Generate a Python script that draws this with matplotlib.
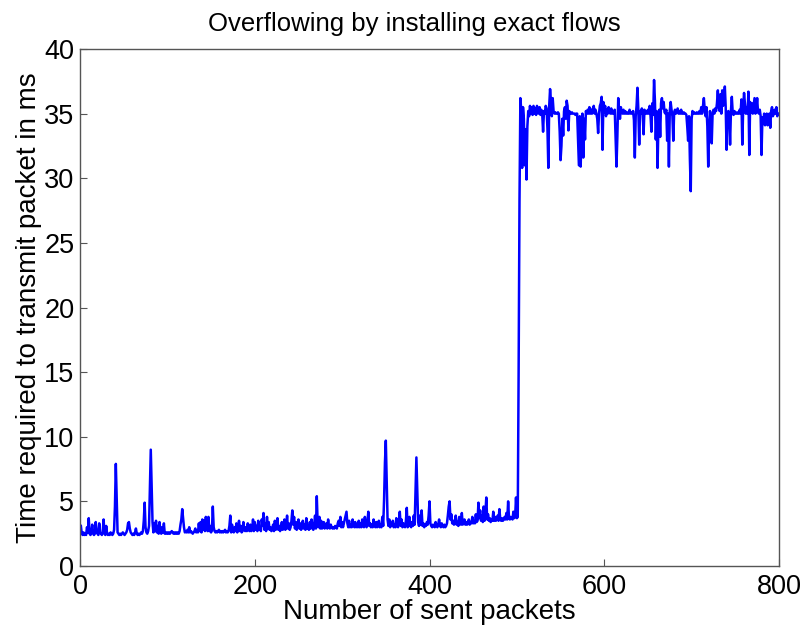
import numpy as np
import matplotlib
matplotlib.use("Agg")
import matplotlib.pyplot as plt

# transmit time (ms) per sent packet, 100 packets per list
ms_001_100 = [
    3.1, 2.5, 2.4, 2.6, 2.4, 2.5, 2.4, 3.0, 2.6, 3.7,
    2.5, 2.4, 2.6, 3.2, 2.5, 2.4, 2.5, 3.4, 2.6, 2.5,
    2.4, 3.3, 2.6, 2.5, 2.4, 2.6, 3.6, 2.5, 2.4, 3.1,
    2.5, 2.4, 2.5, 2.4, 2.6, 2.5, 2.4, 2.5, 2.8, 4.6,
    7.9, 5.1, 2.6, 2.5, 2.4, 2.5, 2.4, 2.5, 2.6, 2.5,
    2.4, 2.5, 2.6, 2.8, 3.3, 3.4, 2.9, 2.6, 2.5, 2.4,
    2.5, 2.4, 2.6, 2.9, 2.5, 2.4, 2.5, 2.4, 2.5, 2.6,
    2.5, 2.7, 3.5, 4.9, 3.0, 2.6, 2.5, 2.7, 3.1, 6.1,
    9.0, 6.1, 3.4, 2.6, 3.3, 2.7, 3.5, 2.6, 3.1, 2.5,
    3.4, 2.7, 2.5, 3.0, 2.6, 3.3, 2.5, 2.6, 2.5, 2.6,
]
ms_101_200 = [
    2.5, 2.6, 2.5, 2.6, 2.7, 2.6, 2.5, 2.6, 2.5, 2.6,
    2.5, 2.6, 2.5, 2.7, 3.2, 3.6, 4.4, 3.7, 3.0, 2.6,
    2.7, 2.6, 2.8, 2.6, 3.0, 2.6, 2.7, 2.6, 2.5, 2.6,
    2.7, 2.9, 2.6, 2.7, 2.6, 3.3, 2.7, 3.4, 2.6, 3.6,
    2.8, 3.5, 2.7, 3.8, 3.1, 2.7, 3.8, 2.7, 3.1, 2.6,
    2.8, 4.6, 3.0, 2.7, 2.6, 2.7, 2.6, 2.7, 2.8, 2.6,
    2.7, 2.6, 2.7, 2.6, 2.7, 2.8, 2.6, 2.7, 2.6, 2.7,
    3.1, 3.9, 2.6, 3.2, 2.7, 2.6, 3.0, 2.7, 3.3, 2.6,
    2.8, 3.5, 2.7, 3.1, 2.6, 2.7, 3.4, 2.8, 2.7, 3.0,
    2.7, 3.3, 2.8, 2.7, 3.2, 2.7, 2.8, 3.6, 2.7, 3.4,
]
ms_201_300 = [
    2.8, 3.1, 2.7, 3.5, 2.8, 3.0, 2.7, 3.6, 3.1, 4.1,
    2.8, 3.3, 2.7, 3.8, 2.9, 3.4, 2.8, 3.0, 2.7, 2.8,
    3.2, 2.7, 3.5, 2.8, 2.9, 3.7, 2.8, 3.1, 2.7, 3.0,
    3.4, 2.8, 2.9, 3.6, 2.8, 3.1, 3.9, 2.9, 3.3, 2.8,
    3.0, 3.5, 4.3, 3.2, 3.8, 2.9, 3.4, 2.8, 3.1, 3.6,
    2.9, 3.3, 2.8, 3.0, 3.5, 2.9, 3.2, 2.8, 3.7, 2.9,
    3.1, 2.8, 3.4, 2.9, 3.6, 3.0, 2.8, 3.2, 3.9, 2.9,
    5.4, 3.3, 3.0, 3.8, 2.9, 3.5, 2.9, 3.1, 3.4, 2.9,
    3.0, 3.3, 2.9, 3.6, 3.0, 2.9, 3.2, 3.0, 2.9, 3.0,
    2.9, 3.1, 3.0, 2.9, 3.3, 3.5, 3.1, 3.8, 3.0, 3.4,
]
ms_301_400 = [
    3.0, 3.3, 3.6, 3.9, 4.2, 3.3, 3.0, 3.5, 3.0, 3.2,
    3.0, 3.6, 3.1, 3.0, 3.4, 3.0, 3.1, 3.0, 3.5, 3.0,
    3.3, 3.0, 3.6, 3.1, 3.0, 3.8, 3.2, 3.0, 3.5, 4.2,
    3.1, 3.3, 3.0, 3.2, 3.0, 3.6, 3.1, 3.0, 3.4, 3.0,
    3.1, 3.5, 3.0, 3.2, 3.0, 3.8, 3.1, 5.1, 8.0, 9.7,
    6.5, 3.6, 3.1, 3.6, 3.0, 3.3, 3.1, 3.5, 3.0, 3.2,
    3.0, 3.7, 3.1, 3.0, 3.4, 4.2, 3.1, 3.6, 3.0, 3.3,
    3.1, 3.0, 3.5, 4.5, 3.0, 3.2, 3.8, 3.1, 3.0, 3.4,
    3.1, 3.9, 3.2, 5.9, 8.4, 5.9, 3.4, 3.1, 3.9, 3.2,
    4.3, 3.1, 3.3, 3.0, 3.2, 3.1, 3.4, 3.2, 3.9, 5.0,
]
ms_401_500 = [
    3.3, 3.1, 3.0, 3.2, 3.1, 3.0, 3.4, 3.1, 3.0, 3.2,
    3.6, 3.1, 3.0, 3.3, 3.1, 3.0, 3.2, 3.0, 3.1, 3.3,
    3.9, 4.6, 5.0, 3.6, 4.0, 3.3, 3.5, 3.2, 3.4, 3.9,
    3.2, 3.4, 3.1, 3.8, 3.3, 3.2, 4.1, 3.2, 3.3, 3.6,
    3.2, 3.4, 3.2, 3.3, 3.6, 3.2, 3.4, 3.3, 3.8, 3.3,
    3.4, 3.3, 4.0, 3.4, 3.5, 4.9, 3.7, 4.3, 3.5, 3.9,
    3.4, 4.6, 3.5, 4.1, 5.3, 3.6, 4.0, 3.5, 3.7, 3.4,
    3.6, 3.5, 4.2, 3.5, 3.8, 3.5, 3.6, 3.9, 3.5, 4.4,
    3.6, 3.5, 3.7, 3.5, 3.6, 3.8, 3.6, 4.1, 3.6, 5.0,
    3.7, 3.6, 3.8, 3.7, 3.6, 4.2, 3.7, 3.8, 5.3, 3.7,
]
ms_501_600 = [
    3.8, 15.0, 28.3, 36.2, 35.3, 30.8, 35.5, 34.6, 31.0, 33.8,
    29.9, 34.0, 35.2, 34.8, 35.6, 35.0, 35.5, 34.9, 35.6, 35.0,
    35.4, 34.9, 35.6, 35.1, 35.0, 35.5, 34.9, 35.3, 35.0, 33.6,
    35.2, 35.0, 35.6, 35.4, 33.8, 30.8, 35.6, 36.9, 36.0, 34.8,
    36.2, 35.2, 35.0, 35.1, 35.0, 35.0, 35.1, 35.0, 33.6, 31.4,
    32.5, 34.6, 33.3, 35.2, 35.5, 34.6, 36.0, 35.6, 33.7, 35.2,
    35.0, 35.0, 35.1, 35.0, 35.0, 35.0, 34.9, 35.0, 35.0, 33.0,
    31.0, 34.8, 30.9, 33.5, 35.0, 31.6, 34.6, 33.0, 35.2, 35.0,
    35.3, 35.0, 35.5, 35.0, 35.3, 35.0, 35.4, 35.6, 35.0, 35.3,
    35.0, 34.6, 33.5, 35.0, 35.6, 35.8, 36.3, 32.2, 35.9, 35.1,
]
ms_601_700 = [
    35.6, 34.8, 35.3, 35.0, 35.5, 35.1, 35.0, 35.4, 35.0, 35.2,
    35.0, 35.3, 33.0, 30.9, 33.2, 36.2, 35.3, 34.6, 35.5, 35.1,
    35.0, 35.3, 35.0, 35.2, 35.0, 35.1, 35.0, 35.0, 35.3, 35.0,
    35.1, 35.0, 35.2, 34.5, 31.6, 34.8, 35.6, 37.0, 35.3, 32.6,
    35.2, 35.0, 35.4, 35.0, 33.4, 35.3, 35.0, 35.2, 35.0, 35.3,
    35.0, 35.6, 34.8, 33.6, 35.8, 34.9, 37.6, 36.0, 33.0, 35.2,
    30.8, 34.2, 35.3, 33.2, 35.8, 36.2, 35.4, 35.9, 35.1, 35.0,
    35.3, 32.9, 35.0, 30.9, 35.2, 35.9, 35.3, 34.8, 32.9, 35.1,
    35.3, 35.0, 35.2, 35.4, 35.0, 35.2, 35.0, 35.3, 35.0, 35.0,
    35.1, 35.0, 35.0, 34.9, 34.0, 32.9, 34.8, 31.5, 29.0, 34.6,
]
ms_701_800 = [
    35.2, 35.0, 35.1, 35.0, 35.0, 35.1, 35.0, 35.0, 35.2, 35.0,
    35.5, 35.0, 35.6, 36.2, 35.3, 34.8, 35.5, 34.0, 30.9, 33.8,
    35.2, 34.3, 32.7, 35.0, 35.3, 35.0, 35.4, 35.2, 35.8, 36.8,
    35.5, 35.2, 36.5, 35.0, 36.8, 35.6, 36.0, 37.1, 35.5, 32.2,
    35.0, 35.2, 34.9, 32.6, 35.2, 36.3, 35.1, 34.9, 35.2, 35.0,
    35.0, 35.1, 35.0, 35.0, 35.3, 35.0, 36.1, 32.6, 35.4, 36.6,
    35.8, 35.0, 35.5, 35.0, 36.7, 31.8, 35.9, 35.1, 35.8, 35.0,
    35.6, 36.2, 35.0, 35.4, 36.2, 35.1, 35.0, 35.3, 34.8, 31.8,
    34.7, 34.2, 35.0, 34.1, 34.5, 35.0, 34.1, 34.8, 35.0, 33.9,
    35.2, 35.5, 34.8, 35.0, 35.3, 35.0, 35.5, 34.8, 35.0, 35.0,
]

times = np.concatenate([ms_001_100, ms_101_200, ms_201_300, ms_301_400,
                        ms_401_500, ms_501_600, ms_601_700, ms_701_800])
packets = np.arange(1, len(times) + 1)

plt.rcParams["font.family"] = ["Liberation Sans", "DejaVu Sans"]

W, H = 807, 630
fig = plt.figure(figsize=(W / 100, H / 100), dpi=100)
ax = fig.add_axes([80 / W, 1 - 566 / H, 699 / W, 517 / H])

ax.plot(packets, times, color="#0000ff", linewidth=1.8)

ax.set_xlim(0, 800)
ax.set_ylim(0, 40)
ax.set_xticks([0, 200, 400, 600, 800])
ax.set_yticks(np.arange(0, 41, 5))

for side in ["top", "right", "bottom", "left"]:
    ax.spines[side].set_color("#555555")
    ax.spines[side].set_linewidth(1.0)
ax.tick_params(direction="in", length=5, width=0.8, color="#555555",
               labelsize=19.5, labelcolor="black")
ax.tick_params(axis="x", pad=6)
ax.tick_params(axis="y", pad=4)

ax.set_xlabel("Number of sent packets", fontsize=20)
ax.xaxis.set_label_coords(0.5, -0.064)
ax.set_ylabel("Time required to transmit packet in ms", fontsize=20)
ax.yaxis.set_label_coords(-0.055, 0.5)

fig.text(414.5 / W, 1 - 31 / H, "Overflowing by installing exact flows",
         fontsize=18.5, ha="center", va="baseline")

fig.savefig("out.png", dpi=100)
